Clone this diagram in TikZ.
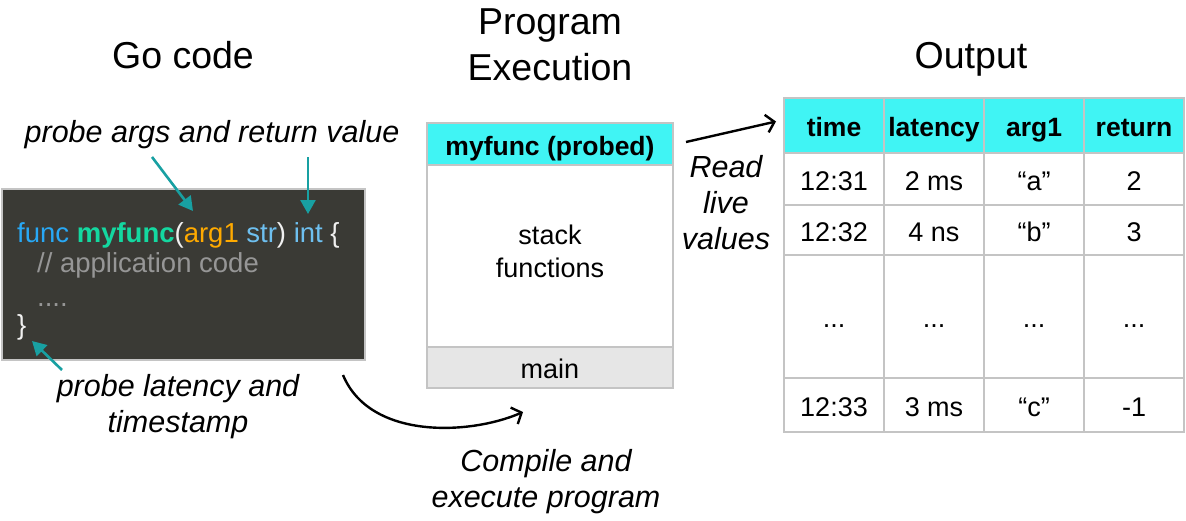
\documentclass[tikz,border=0pt]{standalone}
\usepackage{fontspec}
\setmainfont{Liberation Sans}
\usetikzlibrary{arrows.meta,calc}
\definecolor{hcyan}{RGB}{64,244,244}
\definecolor{codebg}{RGB}{58,58,53}
\definecolor{bgray}{RGB}{196,196,196}
\definecolor{mgray}{RGB}{230,230,230}
\definecolor{tealc}{RGB}{24,160,162}
\definecolor{cfunc}{RGB}{40,168,245}
\definecolor{cname}{RGB}{20,216,160}
\definecolor{carg}{RGB}{255,170,0}
\definecolor{ctype}{RGB}{110,192,240}
\definecolor{cpar}{RGB}{240,240,240}
\definecolor{ccom}{RGB}{150,150,150}
\newcommand\tdots{...}
\tikzset{
  title/.style={font=\fontsize{37.5}{46}\selectfont, inner sep=0, align=center},
  lab/.style={font=\fontsize{30.5}{36}\selectfont\itshape, inner sep=0, align=center},
  codetxt/.style={font=\fontsize{27.5}{30}\selectfont, inner sep=0, anchor=base west},
  tarrow/.style={draw=tealc, line width=2.6, -{Triangle[length=14,width=15]}},
  barrow/.style={draw=black, line width=2.4, -{Straight Barb[length=8,width=18]}},
  stackbox/.style={draw=bgray, line width=2, minimum width=246, outer sep=0, inner sep=0, anchor=north west, font=\fontsize{27}{33}\selectfont, align=center},
  cell/.style={draw=bgray, line width=2, minimum width=100, outer sep=0, inner sep=0, anchor=north west, text height=22, text depth=0, font=\fontsize{27}{31}\selectfont},
  hcell/.style={cell, fill=hcyan, font=\fontsize{26.5}{31}\selectfont\bfseries}
}
\begin{document}
\begin{tikzpicture}[x=1pt,y=-1pt]
\useasboundingbox (0,0) rectangle (1186,520);
% titles
\node[title, anchor=base] (t1) at (183,68) {Go code};
\node[title, anchor=base] (t2) at (550,80) {Program\\Execution};
\node[title, anchor=base] (t3) at (971,68) {Output};
% code block
\node[draw=bgray, fill=codebg, line width=2, minimum width=363, minimum height=171, outer sep=0, anchor=north west] (code) at (2,189) {};
\node[codetxt] (l1) at (17,242) {\textcolor{cfunc}{func} \textcolor{cname}{\bfseries myfunc}\textcolor{cpar}{(}\textcolor{carg}{arg1} \textcolor{ctype}{str}\textcolor{cpar}{)} \textcolor{ctype}{int} \textcolor{cpar}{\{}};
\node[codetxt, text=ccom] (l2) at (37,272) {// application code};
\node[codetxt, text=ccom] (l3) at (37,306) {....};
\node[codetxt, text=cpar] (l4) at (17,334) {\}};
% labels
\node[lab, anchor=base] (la) at (212,142) {probe args and return value};
\node[lab, anchor=base] (lb) at (178,432) {probe latency and\\timestamp};
\coordinate (astart) at (152,157);
\coordinate (argtip) at (193,211);
\coordinate (istart) at (308,157);
\coordinate (inttip) at (308,214);
\coordinate (bstart) at (62,370);
\coordinate (bracetip) at (32,341);
\draw[tarrow] (astart) -- (argtip);
\draw[tarrow] (istart) -- (inttip);
\draw[tarrow] (bstart) -- (bracetip);
% stack
\node[stackbox, fill=hcyan, minimum height=42, text height=22, text depth=0, font=\fontsize{26.5}{31}\selectfont\bfseries] (hdr) at (427,123) {myfunc (probed)};
\node[stackbox, fill=white, minimum height=182, text depth=10] (body) at (427,165) {stack\\functions};
\node[stackbox, fill=mgray, minimum height=41, text height=22, text depth=0] (main) at (427,347) {main};
% table
\foreach \t [count=\i] in {time,latency,arg1,return}
  \node[hcell, minimum height=55] (h\i) at ({784+100*(\i-1)},98) {\t};
\foreach \y/\h/\a/\b/\c/\d [count=\r] in {153/52/12:31/2 ms/“a”/2, 205/50/12:32/4 ns/“b”/3, 255/123/\tdots/\tdots/\tdots/\tdots, 378/54/12:33/3 ms/“c”/-1}
  \foreach \t [count=\i] in {\a,\b,\c,\d}
    \node[cell, minimum height=\h] (c\r\i) at ({784+100*(\i-1)},\y) {\t};
% read arrow
\node[lab, anchor=base] (read) at (726,249) {Read\\live\\values};
\coordinate (rstart) at (686,142);
\draw[barrow] (rstart) -- ($(h1.west)+(-8,-4)$);
% compile arrow
\node[lab, anchor=base] (comp) at (546,507) {Compile and\\execute program};
\coordinate (cstart) at (343,375);
\coordinate (cend) at (523,412);
\draw[barrow] (cstart) .. controls (370,440) and (470,435) .. (cend);
\end{tikzpicture}
\end{document}
